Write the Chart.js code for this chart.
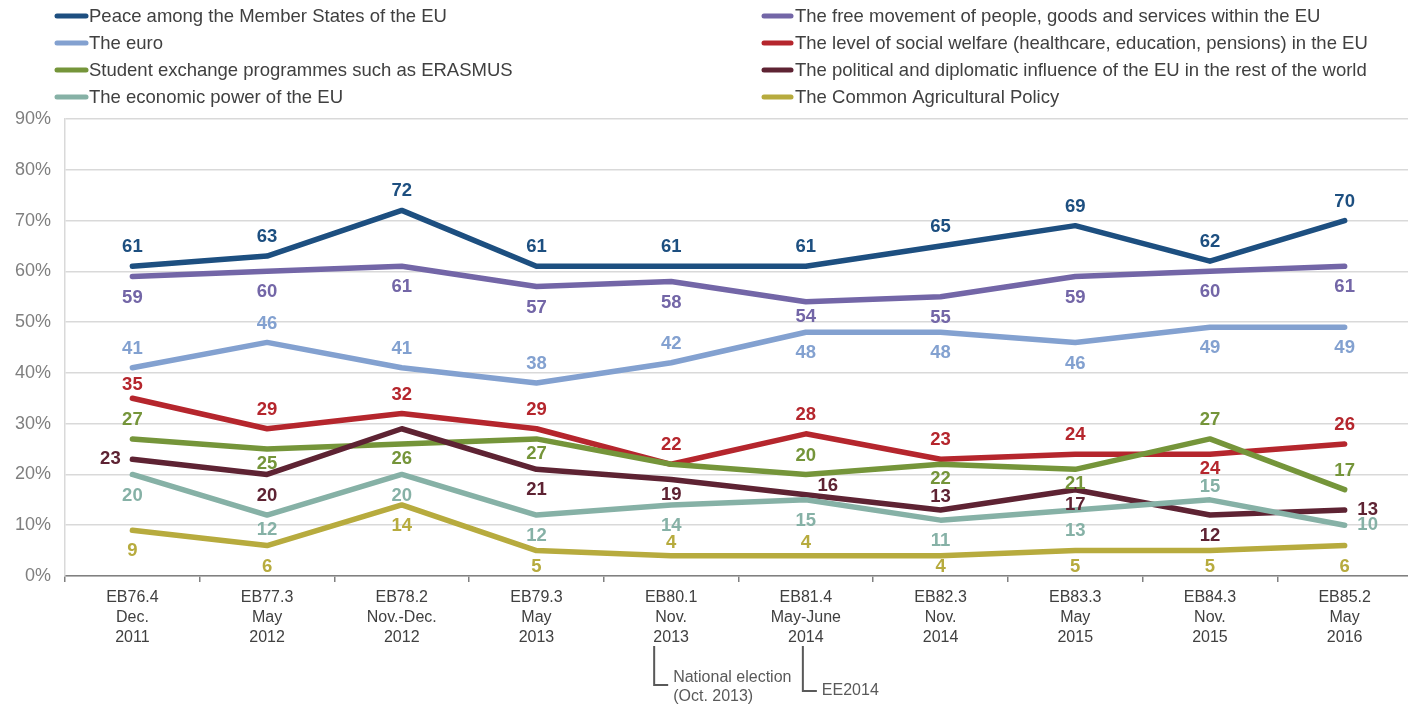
<!DOCTYPE html>
<html><head><meta charset="utf-8">
<script src="https://cdn.jsdelivr.net/npm/chart.js@4.4.1/dist/chart.umd.min.js"></script>
<style>
html,body{margin:0;padding:0;overflow:hidden;background:#fff;width:1408px;height:704px}
#wrap{position:absolute;left:0;top:0;width:1412px;height:704px}
</style>
</head><body>
<div id="wrap"><canvas id="c" width="1412" height="704"></canvas></div>
<script>
// ---------- DATA ----------
const categories = [
  ["EB76.4","Dec.","2011"],
  ["EB77.3","May","2012"],
  ["EB78.2","Nov.-Dec.","2012"],
  ["EB79.3","May","2013"],
  ["EB80.1","Nov.","2013"],
  ["EB81.4","May-June","2014"],
  ["EB82.3","Nov.","2014"],
  ["EB83.3","May","2015"],
  ["EB84.3","Nov.","2015"],
  ["EB85.2","May","2016"]
];
const seriesNames = [
  "Peace among the Member States of the EU",
  "The free movement of people, goods and services within the EU",
  "The euro",
  "The level of social welfare (healthcare, education, pensions) in the EU",
  "Student exchange programmes such as ERASMUS",
  "The political and diplomatic influence of the EU in the rest of the world",
  "The economic power of the EU",
  "The Common Agricultural Policy"
];
const peace              = [61,63,72,61,61,61,65,69,62,70];
const freeMovement       = [59,60,61,57,58,54,55,59,60,61];
const euro               = [41,46,41,38,42,48,48,46,49,49];
const socialWelfare      = [35,29,32,29,22,28,23,24,24,26];
const studentExchange    = [27,25,26,27,22,20,22,21,27,17];
const politicalInfluence = [23,20,29,21,19,16,13,17,12,13];
const economicPower      = [20,12,20,12,14,15,11,13,15,10];
const agriculturalPolicy = [9,6,14,5,4,4,4,5,5,6];
const yTickValues = [0,10,20,30,40,50,60,70,80,90];
const annotationTexts = [
  {index:4, lines:["National election","(Oct. 2013)"]},
  {index:5, lines:["EE2014"]}
];

// ---------- STYLE ----------
const FONT = "'Liberation Sans', Arial, sans-serif";
const colors = ["#1d4f80","#7366a7","#83a1d0","#b5262d","#75953a","#5e2333","#86b1a6","#b7ab3e"];
// label placement codes per point (a=above, b=below, A/B=close, l=left, r=right, ar=above-right, ''=none)
const labelPos = [
  ['a','a','a','a','a','a','a','a','a','a'],
  ['b','b','b','b','b','B','b','b','b','b'],
  ['a','a','a','a','a','b','b','b','b','b'],
  ['A','a','a','a','a','a','a','a','B','a'],
  ['a','B','B','B','' ,'a','B','B','a','a'],
  ['l','b','' ,'b','B','ar','A','B','b','r'],
  ['b','B','b','b','b','b','b','b','A','r'],
  ['b','b','b','b','A','A','b','b','b','b']
];
const OFFSETS = {a:[0,-19],A:[0,-13],b:[0,21],B:[0,15],l:[-22,0],r:[23,0],ar:[22,-9]};
const annotationStyle = [{dx:-17, lineBottom:685, textY:678}, {dx:-3, lineBottom:691, textY:691}];

const seriesData = [peace,freeMovement,euro,socialWelfare,studentExchange,politicalInfluence,economicPower,agriculturalPolicy];

Chart.defaults.font.family = FONT;

const labelPlugin = {
  id:'pointLabels',
  afterDatasetsDraw(chart){
    const ctx = chart.ctx, bottom = chart.chartArea.bottom;
    ctx.save();
    ctx.font = "bold 18.5px " + FONT;
    ctx.textAlign = 'center';
    ctx.textBaseline = 'middle';
    chart.data.datasets.forEach((ds,i)=>{
      const meta = chart.getDatasetMeta(i);
      meta.data.forEach((pt,j)=>{
        const code = labelPos[i][j];
        if(!code) return;
        const off = OFFSETS[code];
        let x = pt.x + off[0], y = pt.y + off[1];
        y = Math.min(y, bottom - 9);
        ctx.fillStyle = ds.borderColor;
        ctx.fillText(String(ds.data[j]), x, y);
      });
    });
    ctx.restore();
  }
};

const legendPlugin = {
  id:'colLegend',
  afterDraw(chart){
    const ctx = chart.ctx;
    ctx.save();
    ctx.font = "18.5px " + FONT;
    ctx.textBaseline = 'middle';
    ctx.textAlign = 'left';
    const cols = [{s0:57,s1:86,t:89},{s0:764,s1:791,t:795}];
    chart.data.datasets.forEach((ds,i)=>{
      const c = cols[i%2];
      const y = 16 + Math.floor(i/2)*27;
      ctx.strokeStyle = ds.borderColor;
      ctx.lineWidth = 5;
      ctx.lineCap = 'round';
      ctx.beginPath(); ctx.moveTo(c.s0,y); ctx.lineTo(c.s1,y); ctx.stroke();
      ctx.fillStyle = '#404040';
      ctx.fillText(ds.label, c.t, y+1);
    });
    ctx.restore();
  }
};

const annotationPlugin = {
  id:'notes',
  afterDraw(chart){
    const ctx = chart.ctx, xs = chart.scales.x;
    const top = chart.chartArea.bottom + 70;
    ctx.save();
    ctx.strokeStyle = '#595959';
    ctx.lineWidth = 2;
    ctx.fillStyle = '#595959';
    ctx.font = "16px " + FONT;
    ctx.textBaseline = 'middle';
    ctx.textAlign = 'left';
    annotationTexts.forEach((a,k)=>{
      const st = annotationStyle[k];
      const x = xs.getPixelForValue(a.index) + st.dx;
      ctx.beginPath();
      ctx.moveTo(x, top); ctx.lineTo(x, st.lineBottom); ctx.lineTo(x+14, st.lineBottom);
      ctx.stroke();
      a.lines.forEach((t,m)=>ctx.fillText(t, x+19, st.textY + m*19));
    });
    ctx.restore();
  }
};

new Chart(document.getElementById('c'), {
  type:'line',
  data:{
    labels: categories,
    datasets: seriesData.map((d,i)=>({
      label: seriesNames[i],
      data: d,
      borderColor: colors[i],
      backgroundColor: colors[i],
      borderWidth: 5.5,
      pointRadius: 0,
      tension: 0,
      fill: false,
      borderCapStyle: 'round',
      borderJoinStyle: 'round',
      order: seriesData.length - i
    }))
  },
  options:{
    responsive:false,
    animation:false,
    devicePixelRatio:1,
    layout:{padding:{top:119,left:1,right:0,bottom:50}},
    plugins:{legend:{display:false}, tooltip:{enabled:false}},
    scales:{
      x:{
        offset:true,
        grid:{offset:true, drawOnChartArea:false, color:'#808080', lineWidth:1.5, tickLength:6},
        border:{color:'#808080', width:1.5},
        ticks:{color:'#404040', font:{size:16, lineHeight:1.25}, padding:6, maxRotation:0, autoSkip:false}
      },
      y:{
        min:0, max:90,
        afterBuildTicks(scale){ scale.ticks = yTickValues.map(v=>({value:v})); },
        ticks:{callback:v=>v+'%', color:'#7f7f7f', font:{size:18}, padding:14},
        grid:{color:'#d9d9d9', lineWidth:1.5, drawTicks:false},
        border:{color:'#d9d9d9', width:1.5}
      }
    }
  },
  plugins:[labelPlugin, legendPlugin, annotationPlugin]
});
</script>
</body></html>
